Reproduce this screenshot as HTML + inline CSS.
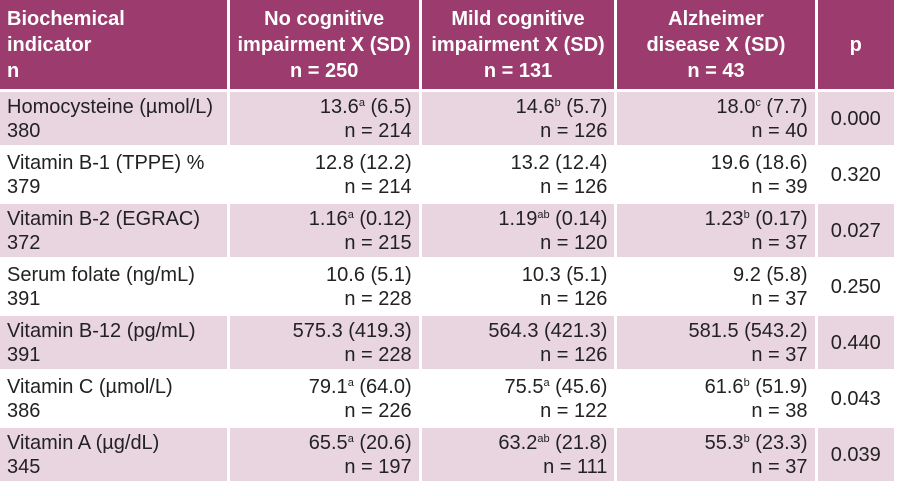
<!DOCTYPE html>
<html><head><meta charset="utf-8"><style>
body{margin:0;width:900px;height:496px;background:#fff;overflow:hidden;font-family:"Liberation Sans",sans-serif;}
table{position:absolute;left:-3px;top:-3px;border-collapse:separate;border-spacing:3px;table-layout:fixed;}
td,th{padding:0 7px;font-size:20px;line-height:24px;color:#222;white-space:nowrap;}
th{background:#9c3b6d;color:#fff;font-weight:bold;height:89px;vertical-align:middle;text-align:center;line-height:26px;}
th.l{text-align:left;}
td{height:53px;text-align:right;vertical-align:middle;}
td.l{text-align:left;}
td.p{text-align:center;}
tr.pk td{background:#e9d5e0;}
sup{font-size:11px;vertical-align:7px;line-height:0;}
</style></head><body>
<table>
<colgroup><col style="width:227px"><col style="width:189px"><col style="width:193px"><col style="width:199px"><col style="width:77px"></colgroup>
<tr>
<th class="l">Biochemical<br>indicator<br>n</th>
<th>No cognitive<br>impairment X (SD)<br>n = 250</th>
<th>Mild cognitive<br>impairment X (SD)<br>n = 131</th>
<th>Alzheimer<br>disease X (SD)<br>n = 43</th>
<th>p</th></tr>
<tr class="pk"><td class="l">Homocysteine (µmol/L)<br>380</td><td>13.6<sup>a</sup> (6.5)<br>n = 214</td><td>14.6<sup>b</sup> (5.7)<br>n = 126</td><td>18.0<sup>c</sup> (7.7)<br>n = 40</td><td class="p">0.000</td></tr>
<tr><td class="l">Vitamin B-1 (TPPE) %<br>379</td><td>12.8 (12.2)<br>n = 214</td><td>13.2 (12.4)<br>n = 126</td><td>19.6 (18.6)<br>n = 39</td><td class="p">0.320</td></tr>
<tr class="pk"><td class="l">Vitamin B-2 (EGRAC)<br>372</td><td>1.16<sup>a</sup> (0.12)<br>n = 215</td><td>1.19<sup>ab</sup> (0.14)<br>n = 120</td><td>1.23<sup>b</sup> (0.17)<br>n = 37</td><td class="p">0.027</td></tr>
<tr><td class="l">Serum folate (ng/mL)<br>391</td><td>10.6 (5.1)<br>n = 228</td><td>10.3 (5.1)<br>n = 126</td><td>9.2 (5.8)<br>n = 37</td><td class="p">0.250</td></tr>
<tr class="pk"><td class="l">Vitamin B-12 (pg/mL)<br>391</td><td>575.3 (419.3)<br>n = 228</td><td>564.3 (421.3)<br>n = 126</td><td>581.5 (543.2)<br>n = 37</td><td class="p">0.440</td></tr>
<tr><td class="l">Vitamin C (µmol/L)<br>386</td><td>79.1<sup>a</sup> (64.0)<br>n = 226</td><td>75.5<sup>a</sup> (45.6)<br>n = 122</td><td>61.6<sup>b</sup> (51.9)<br>n = 38</td><td class="p">0.043</td></tr>
<tr class="pk"><td class="l">Vitamin A (µg/dL)<br>345</td><td>65.5<sup>a</sup> (20.6)<br>n = 197</td><td>63.2<sup>ab</sup> (21.8)<br>n = 111</td><td>55.3<sup>b</sup> (23.3)<br>n = 37</td><td class="p">0.039</td></tr>
</table>
</body></html>
